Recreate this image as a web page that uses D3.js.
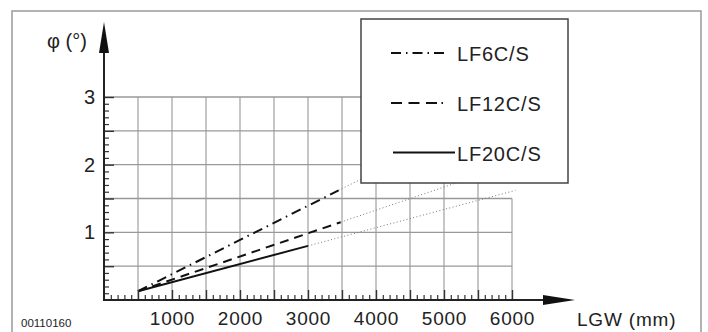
<!DOCTYPE html>
<html>
<head>
<meta charset="utf-8">
<script src="https://cdn.jsdelivr.net/npm/d3@7"></script>
<style>
  html, body { margin: 0; padding: 0; background: #fff; }
  text { font-family: "Liberation Sans", Arial, sans-serif; fill: #222; }
</style>
</head>
<body>
<div id="chart"></div>
<script>
// data
var seriesNames = ["LF6C/S", "LF12C/S", "LF20C/S"];
var seriesLines = [
    [[500, 0.13], [3450, 1.62]],
    [[500, 0.13], [3480, 1.15]],
    [[500, 0.13], [3000, 0.80]]
];
var seriesExtensions = [
    [[3450, 1.62], [6000, 2.90]],
    [[3480, 1.15], [6000, 2.01]],
    [[3000, 0.80], [6050, 1.62]]
];
var xTickLabels = [1000, 2000, 3000, 4000, 5000, 6000];
var yTickLabels = [1, 2, 3];

var width = 708,
    height = 332;

var dashes = ["10,5,1.5,5", "9,6", null];

var svg = d3.select("#chart").append("svg")
    .attr("width", width)
    .attr("height", height);

var x = d3.scaleLinear().domain([0, 6000]).range([104, 512]);
var y = d3.scaleLinear().domain([0, 3]).range([300, 97]);

// outer frame
svg.append("rect")
    .attr("x", 12).attr("y", 11)
    .attr("width", 689).attr("height", 340)
    .attr("fill", "none")
    .attr("stroke", "#9a9a9a")
    .attr("stroke-width", 1.5);

// grid
var g = svg.append("g");
d3.range(500, 6001, 500).forEach(function(v) {
    g.append("line")
        .attr("x1", x(v)).attr("x2", x(v))
        .attr("y1", y(0)).attr("y2", y(v == 6000 ? 1.5 : 3))
        .attr("stroke", "#c6c6c6")
        .attr("stroke-width", 2);
});
d3.range(0.5, 3.01, 0.5).forEach(function(v) {
    g.append("line")
        .attr("x1", x(0)).attr("x2", x(v <= 1.5 ? 6000 : 5500))
        .attr("y1", y(v)).attr("y2", y(v))
        .attr("stroke", "#999")
        .attr("stroke-width", 1.3);
});

var line = d3.line()
    .x(function(d) { return x(d[0]); })
    .y(function(d) { return y(d[1]); });

// dotted continuations
g.selectAll(".ext")
    .data(seriesExtensions).enter()
    .append("path")
    .attr("class", "ext")
    .attr("d", line)
    .attr("fill", "none")
    .attr("stroke", "#777")
    .attr("stroke-width", 1)
    .attr("stroke-dasharray", "1,2.4");

// the three series
g.selectAll(".series")
    .data(seriesLines).enter()
    .append("path")
    .attr("class", "series")
    .attr("d", line)
    .attr("fill", "none")
    .attr("stroke", "#111")
    .attr("stroke-width", 2)
    .attr("stroke-dasharray", function(d, i) { return dashes[i]; });

// y axis: minor + major ticks on the right side
var yMinor = d3.range(1, 31).filter(function(v) { return v % 5 != 0; }).map(function(v) { return v / 10; });
var yMajor = d3.range(1, 7).map(function(v) { return v / 2; });
svg.append("g")
    .attr("transform", "translate(" + x(0) + ",0)")
    .call(d3.axisRight(y).tickValues(yMinor).tickSize(5).tickFormat(""))
    .call(function(a) { a.select(".domain").remove(); a.selectAll("line").attr("stroke", "#333").attr("stroke-width", 1.2); });
svg.append("g")
    .attr("transform", "translate(" + x(0) + ",0)")
    .call(d3.axisRight(y).tickValues(yMajor).tickSize(10).tickFormat(""))
    .call(function(a) { a.select(".domain").remove(); a.selectAll("line").attr("stroke", "#333").attr("stroke-width", 1.4); });
svg.append("g")
    .attr("transform", "translate(" + x(0) + ",0)")
    .call(d3.axisLeft(y).tickValues(yTickLabels).tickSize(0).tickPadding(9).tickFormat(d3.format("d")))
    .call(function(a) {
        a.select(".domain").remove();
        a.selectAll("text").attr("font-size", 20).attr("font-family", null).attr("fill", "#222");
    });

// x axis: minor + major ticks pointing up
var xMinor = d3.range(100, 6001, 100).filter(function(v) { return v % 500 != 0; });
var xMajor = d3.range(500, 6001, 500);
svg.append("g")
    .attr("transform", "translate(0," + y(0) + ")")
    .call(d3.axisTop(x).tickValues(xMinor).tickSize(5).tickFormat(""))
    .call(function(a) { a.select(".domain").remove(); a.selectAll("line").attr("stroke", "#333").attr("stroke-width", 1.2); });
svg.append("g")
    .attr("transform", "translate(0," + y(0) + ")")
    .call(d3.axisTop(x).tickValues(xMajor).tickSize(10).tickFormat(""))
    .call(function(a) { a.select(".domain").remove(); a.selectAll("line").attr("stroke", "#333").attr("stroke-width", 1.4); });
svg.append("g")
    .attr("transform", "translate(0," + y(0) + ")")
    .call(d3.axisBottom(x).tickValues(xTickLabels).tickSize(0).tickPadding(12).tickFormat(d3.format("d")))
    .call(function(a) {
        a.select(".domain").remove();
        a.selectAll("text").attr("font-size", 19).attr("font-family", null).attr("fill", "#222")
            .attr("letter-spacing", "0.8px");
    });

// axis lines with arrows
svg.append("line")
    .attr("x1", x(0)).attr("x2", x(0))
    .attr("y1", y(0) + 1).attr("y2", 50)
    .attr("stroke", "#222").attr("stroke-width", 2);
svg.append("path")
    .attr("d", "M" + x(0) + ",22L" + (x(0) - 5) + ",53L" + (x(0) + 5) + ",53Z")
    .attr("fill", "#111");
svg.append("line")
    .attr("x1", x(0) - 1).attr("x2", 546)
    .attr("y1", y(0)).attr("y2", y(0))
    .attr("stroke", "#222").attr("stroke-width", 2);
svg.append("path")
    .attr("d", "M575," + y(0) + "L543," + (y(0) - 5) + "L543," + (y(0) + 5) + "Z")
    .attr("fill", "#111");

// axis titles
svg.append("text")
    .attr("x", 47).attr("y", 48)
    .attr("font-size", 20)
    .text("φ (°)");
svg.append("text")
    .attr("x", 577).attr("y", 326)
    .attr("font-size", 19)
    .attr("letter-spacing", "0.8px")
    .text("LGW (mm)");
svg.append("text")
    .attr("x", 21).attr("y", 327)
    .attr("font-size", 11.5)
    .text("00110160");

// legend
var legend = svg.append("g");
legend.append("rect")
    .attr("x", 361).attr("y", 19)
    .attr("width", 207).attr("height", 164)
    .attr("fill", "#fff")
    .attr("stroke", "#444")
    .attr("stroke-width", 1.5);
var legendY = [53, 103, 152.5];
var legendX2 = [447, 447, 455];
var legendX1 = [391, 391, 393];
legend.selectAll(".lg-line")
    .data(seriesNames).enter()
    .append("line")
    .attr("x1", function(d, i) { return legendX1[i]; })
    .attr("x2", function(d, i) { return legendX2[i]; })
    .attr("y1", function(d, i) { return legendY[i]; })
    .attr("y2", function(d, i) { return legendY[i]; })
    .attr("stroke", "#111")
    .attr("stroke-width", 2)
    .attr("stroke-dasharray", function(d, i) { return i == 1 ? "11,6.5,11,6.5,11,4.5,1.5,5" : dashes[i]; });
legend.selectAll(".lg-text")
    .data(seriesNames).enter()
    .append("text")
    .attr("x", 457)
    .attr("y", function(d, i) { return legendY[i] + 8; })
    .attr("font-size", 20)
    .attr("letter-spacing", "0.8px")
    .text(function(d) { return d; });
</script>
</body>
</html>
